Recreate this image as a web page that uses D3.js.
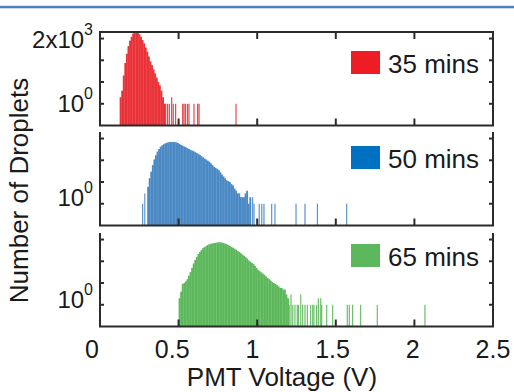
<!DOCTYPE html>
<html>
<head>
<meta charset="utf-8">
<script src="https://cdn.jsdelivr.net/npm/d3@7"></script>
<style>
  html, body { margin: 0; padding: 0; background: #fff; }
  text { font-family: "Liberation Sans", Arial, Helvetica, sans-serif; fill: #1a1a1a; }
</style>
</head>
<body>
<figure id="hist" style="margin:0"></figure>
<script>
// histogram data (bin width 0.01 V)
const binWidth = 0.01;
const seriesNames = ["35 mins", "50 mins", "65 mins"];
const barColors = ["#e83237", "#4a89c4", "#5db85c"];
const legendColors = ["#ee1d25", "#0070c0", "#5cb85c"];

const redStart = 0.125;
const redCounts = [2, 4, 20, 75, 200, 450, 800, 1200, 1700, 1950, 2000, 1950, 1600, 1200, 850,
  600, 380, 250, 150, 90, 60, 38, 25, 16, 10, 7, 4, 2, 1];
const redSparse = [[0.418, 1], [0.430, 1], [0.441, 1], [0.456, 2], [0.466, 1], [0.481, 1],
  [0.526, 1], [0.534, 1], [0.543, 1], [0.556, 1], [0.566, 1], [0.598, 1], [0.621, 1],
  [0.630, 1], [0.865, 1]];

const blueStart = 0.30;
const blueCounts = [6, 15, 30, 60, 110, 170, 250, 330, 420, 490, 550, 600, 640, 670, 690,
  700, 700, 690, 670, 620, 560, 510, 470, 430, 400, 360, 330, 300, 280, 260,
  235, 215, 195, 175, 155, 135, 120, 108, 95, 85, 72, 60, 50, 45, 40,
  35, 28, 22, 18, 15, 12, 11, 10, 8, 7, 5, 4, 3, 3, 2,
  2, 2, 3, 4, 1, 2];
const blueSparse = [[0.271, 1], [0.285, 3], [0.971, 2], [0.980, 1], [1.013, 1], [1.029, 1],
  [1.043, 1], [1.092, 1], [1.113, 1], [1.247, 1], [1.304, 1], [1.383, 1], [1.569, 1]];

const greenStart = 0.50;
const greenCounts = [2, 4, 9, 10, 12, 15, 22, 32, 50, 80, 115, 160, 215, 270, 330,
  400, 450, 500, 560, 610, 640, 670, 690, 710, 730, 750, 740, 720, 690, 650,
  610, 560, 510, 460, 420, 380, 340, 300, 270, 235, 205, 180, 155, 135, 110,
  95, 85, 75, 62, 50, 40, 35, 31, 27, 24, 20, 17, 15, 13, 11,
  10, 9, 8, 7, 6, 6, 5, 5, 3, 2];
const greenSparse = [[1.204, 1], [1.215, 3], [1.226, 1], [1.240, 1], [1.255, 1], [1.262, 1],
  [1.277, 3], [1.289, 1], [1.304, 1], [1.319, 1], [1.340, 1], [1.353, 1], [1.361, 1],
  [1.378, 1], [1.389, 2], [1.404, 2], [1.410, 1], [1.442, 1], [1.480, 1], [1.573, 1],
  [1.586, 1], [1.607, 1], [1.658, 1], [1.764, 1], [2.067, 1]];

const starts = [redStart, blueStart, greenStart];
const counts = [redCounts, blueCounts, greenCounts];
const sparse = [redSparse, blueSparse, greenSparse];

const xTicks = [0, 0.5, 1, 1.5, 2, 2.5];
const yTicks = [1, 10, 100, 1000];

// layout
const width = 514, height = 392;
const left = 100, right = 493;
const panelTops = [32, 132, 233];
const panelH = 93.5;
const legendOffsets = [19, 14, 11];
const labelShift = [0, -6, -5];

const svg = d3.select("figure#hist")
  .append("svg")
  .attr("width", width)
  .attr("height", height);

// blue rule along the top
svg.append("rect")
  .attr("x", 0).attr("y", 5.8)
  .attr("width", width).attr("height", 2.5)
  .attr("fill", "#4f81bd");

const x = d3.scaleLinear().domain([0, 2.5]).range([left, right]);
// tick labels sit a little left of their ticks in the original, drifting toward the right end
const xLab = d3.scaleLinear().domain([0, 2.5]).range([92, right]);

panelTops.forEach((top, i) => {
  const bottom = top + panelH;
  const y = d3.scaleLog().domain([0.1, 2000]).range([bottom, top]).clamp(true);
  const g = svg.append("g");

  // dense part of the histogram
  const bins = counts[i].map((c, k) => ({ x0: starts[i] + k * binWidth, c: c }));
  g.append("g").selectAll("rect")
    .data(bins)
    .enter()
    .append("rect")
    .attr("x", d => x(d.x0))
    .attr("width", x(binWidth) - x(0) + 0.3)
    .attr("y", d => y(d.c))
    .attr("height", d => bottom - y(d.c))
    .attr("fill", barColors[i]);

  // lone counts in the tails
  g.append("g").selectAll("rect")
    .data(sparse[i])
    .enter()
    .append("rect")
    .attr("x", d => x(d[0]) - 0.6)
    .attr("width", 1.2)
    .attr("y", d => y(d[1]))
    .attr("height", d => bottom - y(d[1]))
    .attr("fill", barColors[i])
    .attr("opacity", 0.9);

  // frame: panels 2 and 3 have no top line
  const frame = g.append("g").attr("stroke", "#2b2b2b").attr("stroke-width", 2).attr("fill", "none");
  frame.append("path")
    .attr("d", i === 0
      ? `M${left},${bottom}V${top}H${right}V${bottom}Z`
      : `M${left},${top}V${bottom}H${right}V${top}`);

  // inner ticks
  const tickG = g.append("g").attr("stroke", "#2b2b2b").attr("stroke-width", 2);
  xTicks.slice(1, -1).forEach(t => {
    tickG.append("line").attr("x1", x(t)).attr("x2", x(t)).attr("y1", bottom).attr("y2", bottom - 7);
    if (i === 0) tickG.append("line").attr("x1", x(t)).attr("x2", x(t)).attr("y1", top).attr("y2", top + 7);
  });
  yTicks.forEach(t => {
    tickG.append("line").attr("x1", left).attr("x2", left + 4).attr("y1", y(t)).attr("y2", y(t));
    tickG.append("line").attr("x1", right).attr("x2", right - 4).attr("y1", y(t)).attr("y2", y(t));
  });

  // y labels
  const lab = g.append("text")
    .attr("x", 93)
    .attr("y", y(1) + labelShift[i] + 8.5)
    .attr("text-anchor", "end")
    .style("font-size", "24px");
  lab.append("tspan").text("10");
  lab.append("tspan").attr("dy", -13).style("font-size", "16px").text("0");

  if (i === 0) {
    const lab2 = g.append("text")
      .attr("x", 93)
      .attr("y", top + 16)
      .attr("text-anchor", "end")
      .style("font-size", "24px");
    lab2.append("tspan").text("2x10");
    lab2.append("tspan").attr("dy", -13).style("font-size", "16px").text("3");
  }

  // legend
  const ly = top + legendOffsets[i];
  g.append("rect")
    .attr("x", 351).attr("y", ly)
    .attr("width", 29).attr("height", 23)
    .attr("fill", legendColors[i]);
  g.append("text")
    .attr("x", 388)
    .attr("y", ly + 21.5)
    .style("font-size", "26px")
    .text(seriesNames[i]);
});

// x tick labels under the last panel
const lastBottom = panelTops[2] + panelH;
svg.append("g").selectAll("text")
  .data(xTicks)
  .enter()
  .append("text")
  .attr("x", d => xLab(d))
  .attr("y", lastBottom + 31.5)
  .attr("text-anchor", "middle")
  .style("font-size", "25px")
  .text(d => d);

svg.append("text")
  .attr("x", 282)
  .attr("y", 385.5)
  .attr("text-anchor", "middle")
  .style("font-size", "26px")
  .text("PMT Voltage (V)");

svg.append("text")
  .attr("transform", "translate(28,190.5) rotate(-90)")
  .attr("text-anchor", "middle")
  .style("font-size", "26px")
  .text("Number of Droplets");
</script>
</body>
</html>
